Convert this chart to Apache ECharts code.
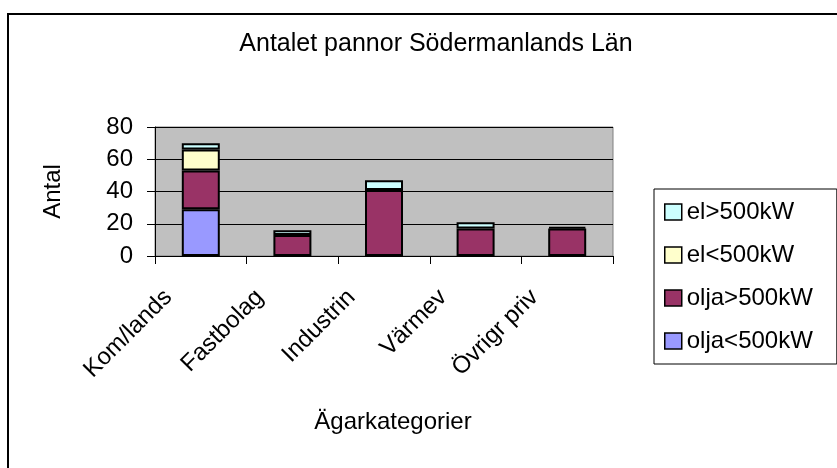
<!DOCTYPE html>
<html>
<head>
<meta charset="utf-8">
<script src="https://cdn.jsdelivr.net/npm/echarts@6/dist/echarts.min.js"></script>
<style>
    html, body { margin: 0; padding: 0; background: #fff; }
    #chart { width: 837px; height: 468px; }
</style>
</head>
<body>
<div id="chart"></div>
<script>
// Data
var categories = ['Kom/lands', 'Fastbolag', 'Industrin', 'Värmev', 'Övrigr priv'];
var oljaUnder500 = [29, 0, 0, 0, 0];
var oljaOver500 = [24, 13, 41, 17, 17];
var elUnder500 = [13, 0, 0, 0, 0];
var elOver500 = [4, 3, 6, 4, 1];
var yTicks = { min: 0, max: 80, interval: 20 };

var font = 'Liberation Sans, Arial, sans-serif';

// Empty segments are left out so no border line is drawn
var clean = function (arr) {
    return arr.map(function (v) { return v === 0 ? '-' : v; });
};

var makeSeries = function (name, color, values) {
    return {
        name: name,
        type: 'bar',
        stack: 'total',
        barWidth: 38,
        itemStyle: {
            color: color,
            borderColor: '#000',
            borderWidth: 2
        },
        data: clean(values)
    };
};

var chart = echarts.init(document.getElementById('chart'));

chart.setOption({
    animation: false,
    textStyle: { fontFamily: font },

    // Outer frame
    graphic: [{
        type: 'rect',
        shape: { x: 8, y: 14, width: 900, height: 500 },
        style: { fill: 'none', stroke: '#000', lineWidth: 2 },
        silent: true
    }],

    title: {
        text: 'Antalet pannor Södermanlands Län',
        left: 431,
        top: 27,
        textAlign: 'center',
        textStyle: { fontSize: 25, fontWeight: 'normal', color: '#000', fontFamily: font }
    },

    legend: {
        orient: 'vertical',
        left: 654,
        top: 189,
        padding: [11, 24, 11, 10],
        itemGap: 19,
        itemWidth: 17,
        itemHeight: 16,
        icon: 'rect',
        borderColor: '#000',
        borderWidth: 1,
        backgroundColor: '#fff',
        textStyle: { fontSize: 24, color: '#000', fontFamily: font },
        itemStyle: { borderColor: '#000', borderWidth: 1.5 },
        data: ['el>500kW', 'el<500kW', 'olja>500kW', 'olja<500kW']
    },

    grid: {
        left: 155,
        right: 224,
        top: 127,
        bottom: 212,
        show: true,
        backgroundColor: '#C0C0C0',
        borderColor: '#808080',
        borderWidth: 1
    },

    xAxis: {
        type: 'category',
        data: categories,
        name: 'Ägarkategorier',
        nameLocation: 'middle',
        nameGap: 154,
        nameTextStyle: { fontSize: 24, color: '#000', fontFamily: font, padding: [0, 0, 0, 18] },
        axisLine: { lineStyle: { color: '#000', width: 1 } },
        axisTick: { show: true, length: 8, alignWithLabel: false, interval: 0, lineStyle: { color: '#000' } },
        axisLabel: {
            rotate: 45,
            fontSize: 24,
            color: '#000',
            margin: 5,
            interval: 0,
            padding: [0, 46, 0, 0],
            fontFamily: font
        }
    },

    yAxis: {
        type: 'value',
        min: yTicks.min,
        max: yTicks.max,
        interval: yTicks.interval,
        name: 'Antal',
        nameLocation: 'middle',
        nameGap: 90,
        nameRotate: 90,
        nameTextStyle: { fontSize: 24, color: '#000', fontFamily: font },
        axisLine: { show: true, lineStyle: { color: '#000', width: 1 } },
        axisTick: { show: true, length: 8, lineStyle: { color: '#000' } },
        axisLabel: { fontSize: 24, color: '#000', margin: 22, fontFamily: font },
        splitLine: { show: true, lineStyle: { color: '#000', width: 1 } }
    },

    series: [
        makeSeries('olja<500kW', '#9999FF', oljaUnder500),
        makeSeries('olja>500kW', '#993366', oljaOver500),
        makeSeries('el<500kW', '#FFFFCC', elUnder500),
        makeSeries('el>500kW', '#CCFFFF', elOver500)
    ]
});
</script>
</body>
</html>
